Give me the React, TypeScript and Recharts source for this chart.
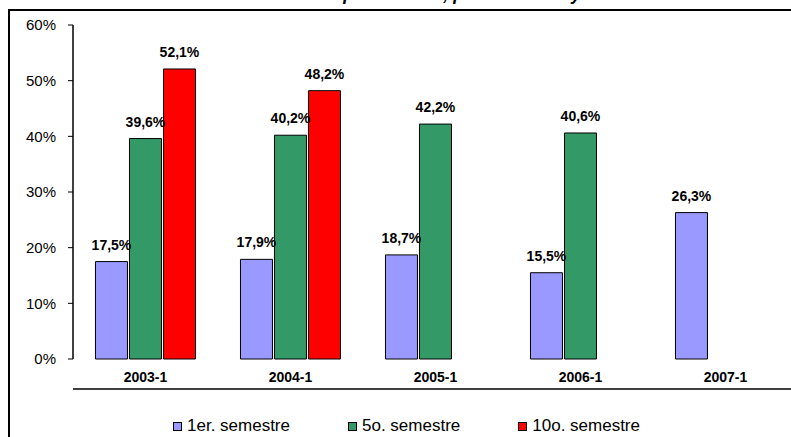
import React from "react";
import { BarChart, Bar, XAxis, YAxis, Legend, LabelList } from "recharts";

const categories = ["2003-1", "2004-1", "2005-1", "2006-1", "2007-1"];
const sem1 = [17.5, 17.9, 18.7, 15.5, 26.3];
const sem5 = [39.6, 40.2, 42.2, 40.6, null];
const sem10 = [52.1, 48.2, null, null, null];
const yTicks = [0, 10, 20, 30, 40, 50, 60];
const boundaryTicks = [0, 1, 2, 3, 4, 5];

const seriesNames = ["1er. semestre", "5o. semestre", "10o. semestre"];
const seriesColors = ["#9999FF", "#339966", "#FF0000"];

const data = categories.map((c, i) => ({
  cat: c,
  s1: sem1[i],
  s5: sem5[i],
  s10: sem10[i],
}));

const FONT = "Arial, 'Liberation Sans', sans-serif";

const fmt = (v: any) =>
  v === null || v === undefined ? "" : `${Number(v).toFixed(1).replace(".", ",")}%`;

const LegendContent = () => (
  <div
    style={{
      display: "flex",
      justifyContent: "center",
      gap: 58,
      fontFamily: FONT,
      fontSize: 17,
      lineHeight: "20px",
      color: "#000",
    }}
  >
    {seriesNames.map((n, i) => (
      <div key={n} style={{ display: "flex", alignItems: "center" }}>
        <span
          style={{
            display: "inline-block",
            width: 7,
            height: 7,
            background: seriesColors[i],
            border: "1px solid #000",
            marginRight: 5,
          }}
        />
        <span>{n}</span>
      </div>
    ))}
  </div>
);

export default function App() {
  return (
    <div
      style={{
        position: "absolute",
        left: 0,
        top: 0,
        width: 791,
        height: 437,
        overflow: "hidden",
        background: "#fff",
      }}
    >
      <svg
        width={791}
        height={20}
        style={{ position: "absolute", left: 0, top: 0 }}
      >
        <text
          x={400}
          y={0}
          textAnchor="middle"
          fontFamily={FONT}
          fontSize={18}
          fontWeight="bold"
          fontStyle="italic"
          fill="#000"
        >
          Tasa de deserción por cohorte, por semestre y año
        </text>
      </svg>
      <div
        style={{
          position: "absolute",
          left: 8,
          top: 9,
          width: 820,
          height: 500,
          border: "2px solid #000",
          boxSizing: "border-box",
        }}
      />
      <div style={{ position: "absolute", left: 0, top: 0 }}>
        <BarChart
          width={810}
          height={437}
          data={data}
          margin={{ top: 25, right: 12, left: 0, bottom: 27 }}
          barCategoryGap="15.5%"
          barGap={2}
        >
          <XAxis
            dataKey="cat"
            height={30}
            axisLine={false}
            tickLine={false}
            tickSize={6}
            tickMargin={7}
            tick={{ fontFamily: FONT, fontSize: 14, fontWeight: "bold", fill: "#000" }}
          />
          <XAxis
            xAxisId="b"
            type="number"
            domain={[0, 5]}
            ticks={boundaryTicks}
            allowDataOverflow
            height={1}
            tick={false}
            tickSize={5}
            stroke="#000"
            axisLine={{ stroke: "#000", strokeWidth: 1.5 }}
            tickLine={{ stroke: "#000" }}
          />
          <YAxis
            width={73}
            domain={[0, 60]}
            ticks={yTicks}
            tickFormatter={(v: number) => `${v}%`}
            tickSize={5}
            tickMargin={12}
            axisLine={{ stroke: "#000", strokeWidth: 1.5 }}
            tickLine={{ stroke: "#000" }}
            tick={{ fontFamily: FONT, fontSize: 15, fill: "#000" }}
          />
          <Legend
            verticalAlign="bottom"
            height={20}
            content={<LegendContent />}
            wrapperStyle={{ position: "absolute", left: 0, top: 416, width: 813 }}
          />
          {(["s1", "s5", "s10"] as const).map((k, i) => (
            <Bar
              key={k}
              dataKey={k}
              name={seriesNames[i]}
              fill={seriesColors[i]}
              stroke="#000"
              strokeWidth={1}
              isAnimationActive={false}
            >
              <LabelList
                dataKey={k}
                position="top"
                offset={12}
                formatter={fmt}
                style={{ fontFamily: FONT, fontSize: 14, fontWeight: "bold", fill: "#000" }}
              />
            </Bar>
          ))}
        </BarChart>
      </div>
    </div>
  );
}
